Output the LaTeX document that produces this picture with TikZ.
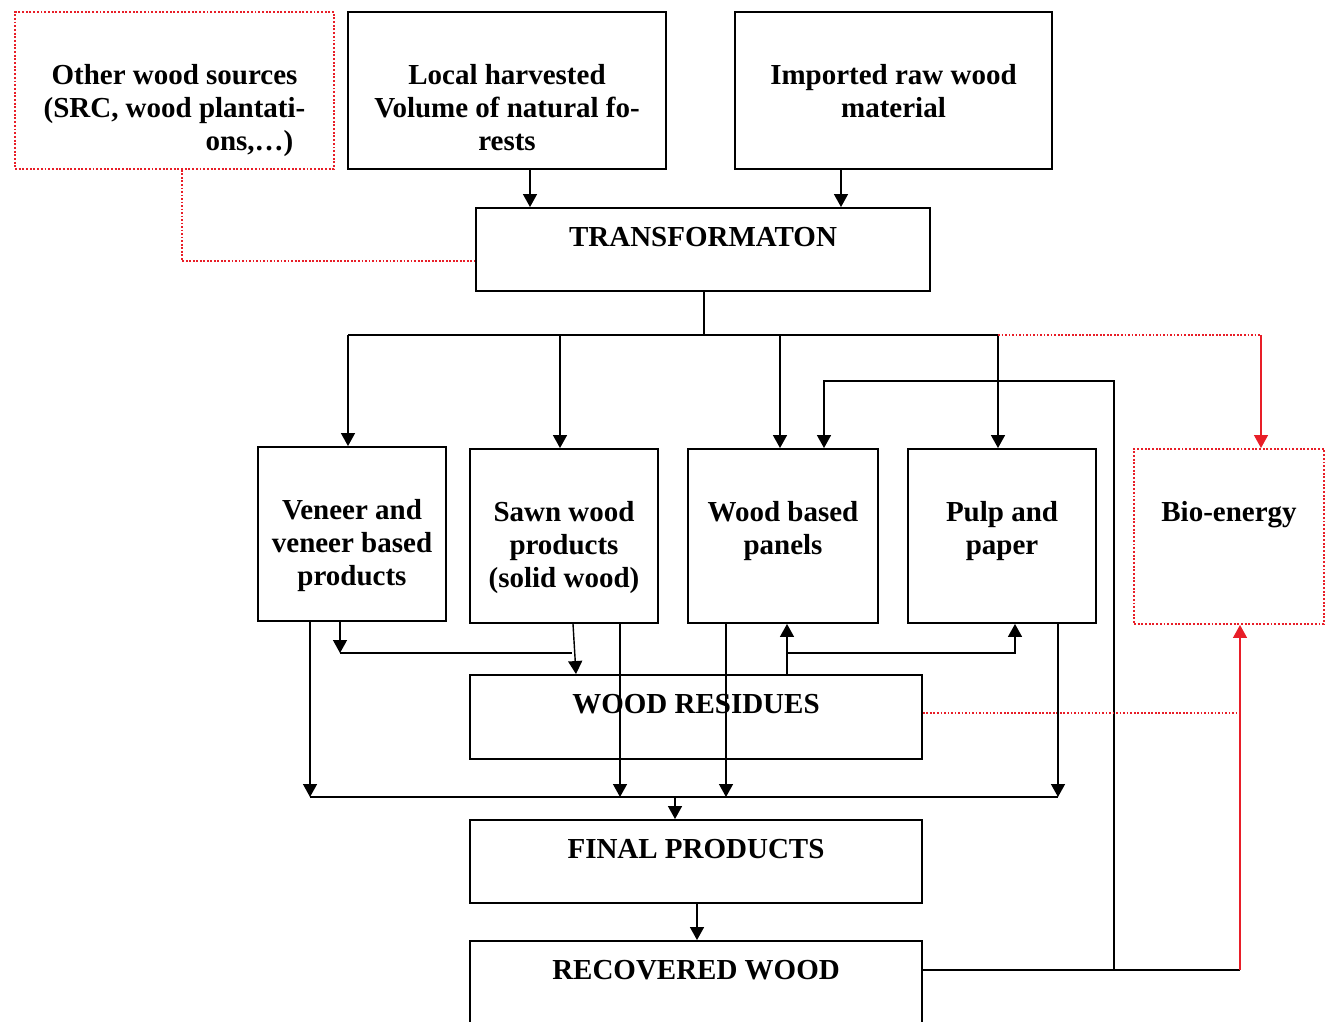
\documentclass[tikz,border=0pt]{standalone}
\usepackage{fontspec}
\setmainfont{Liberation Serif}
\usetikzlibrary{arrows.meta,calc}

\begin{document}
\begin{tikzpicture}[x=0.02cm, y=-0.02cm, every node/.style={font=\fontsize{16.5}{18.8}\selectfont\bfseries}]
        \definecolor{flowred}{RGB}{232,30,40}
        \tikzset{
            box/.style={draw, line width=1.1pt, inner sep=0pt},
            redbox/.style={draw=flowred, densely dotted, line width=1.1pt, inner sep=0pt},
            lbl/.style={anchor=north, align=center, inner sep=0pt, yshift=-1.06cm},
            flatlbl/.style={anchor=north, align=center, inner sep=0pt, yshift=-0.4cm},
            link/.style={line width=0.8pt},
            arr/.style={link, -{Triangle[length=0.26cm, width=0.28cm]}},
            reddot/.style={draw=flowred, densely dotted, line width=1pt},
            redarr/.style={draw=flowred, line width=0.7pt, -{Triangle[length=0.26cm, width=0.28cm]}}
        }

        \clip (0,0) rectangle (1325,1021);

        % Sources
        \node[redbox, minimum width=6.38cm, minimum height=3.14cm,
              label={[lbl]north:{Other wood sources\\(SRC, wood plantati-\\\hspace*{3.0cm}ons,\dots)}}] (other) at (174.5,90.5) {};
        \node[box, minimum width=6.36cm, minimum height=3.14cm,
              label={[lbl]north:{Local harvested\\Volume of natural fo-\\rests}}] (local) at (507,90.5) {};
        \node[box, minimum width=6.34cm, minimum height=3.14cm,
              label={[lbl]north:{Imported raw wood\\material}}] (imported) at (893.5,90.5) {};

        % Transformation
        \node[box, minimum width=9.08cm, minimum height=1.66cm,
              label={[flatlbl]north:TRANSFORMATON}] (trans) at (703,249.5) {};

        % Products
        \node[box, minimum width=3.76cm, minimum height=3.48cm,
              label={[lbl]north:{Veneer and\\veneer based\\products}}] (veneer) at (352,534) {};
        \node[box, minimum width=3.76cm, minimum height=3.48cm,
              label={[lbl]north:{Sawn wood\\products\\(solid wood)}}] (sawn) at (564,536) {};
        \node[box, minimum width=3.8cm, minimum height=3.48cm,
              label={[lbl]north:{Wood based\\panels}}] (panels) at (783,536) {};
        \node[box, minimum width=3.76cm, minimum height=3.48cm,
              label={[lbl]north:{Pulp and\\paper}}] (pulp) at (1002,536) {};
        \node[redbox, minimum width=3.8cm, minimum height=3.5cm,
              label={[lbl]north:Bio-energy}] (bio) at (1229,536.5) {};

        % Lower chain
        \node[box, minimum width=9.04cm, minimum height=1.68cm,
              label={[flatlbl]north:WOOD RESIDUES}] (residues) at (696,717) {};
        \node[box, minimum width=9.04cm, minimum height=1.66cm,
              label={[flatlbl]north:FINAL PRODUCTS}] (final) at (696,861.5) {};
        \node[box, minimum width=9.04cm, minimum height=2.36cm,
              label={[flatlbl]north:RECOVERED WOOD}] (recovered) at (696,1000) {};

        % Sources into transformation
        \draw[arr] (530,0 |- local.south) -- (530,0 |- trans.north);
        \draw[arr] (841,0 |- imported.south) -- (841,0 |- trans.north);
        \draw[reddot] (182,0 |- other.south) |- (trans.west |- 0,261);

        % Transformation out to the products
        \coordinate (split) at (704,335);
        \draw[link] (trans.south -| split) -- (split);
        \draw[link] (348,335) -- (998,335);
        \draw[arr] (348,335) -- (348,0 |- veneer.north);
        \draw[arr] (560,335) -- (560,0 |- sawn.north);
        \draw[arr] (780,335) -- (780,0 |- panels.north);
        \draw[arr] (998,335) -- (998,0 |- pulp.north);
        \draw[reddot] (998,335) -- (1261,335);
        \draw[redarr] (1261,335) -- (1261,0 |- bio.north);

        % Recovered wood back to panels and bio-energy
        \draw[link] (recovered.east |- 0,970) -- (1240,970);
        \draw[arr] (1114,970) |- (824,381) -- (824,0 |- panels.north);
        \draw[redarr] (1240,970) -- (1240,0 |- bio.south);
        \draw[reddot] (residues.east |- 0,713) -- (1240,713);

        % Products to residues
        \draw[arr] (340,0 |- veneer.south) -- (340,653);
        \draw[link] (340,653) -- (572,653);
        \draw[arr] (573,0 |- sawn.south) -- (576,0 |- residues.north);
        \draw[arr] (787,0 |- residues.north) -- (787,0 |- panels.south);
        \draw[arr] (787,653) -| (1015,0 |- pulp.south);

        % Products to final products
        \coordinate (collect) at (675,797);
        \draw[link] (310,797) -- (1058,797);
        \draw[arr] (310,0 |- veneer.south) -- (310,797);
        \draw[arr] (620,0 |- sawn.south) -- (620,797);
        \draw[arr] (726,0 |- panels.south) -- (726,797);
        \draw[arr] (1058,0 |- pulp.south) -- (1058,797);
        \draw[arr] (collect) -- (collect |- final.north);
        \draw[arr] (697,0 |- final.south) -- (697,0 |- recovered.north);
    \end{tikzpicture}
\end{document}
